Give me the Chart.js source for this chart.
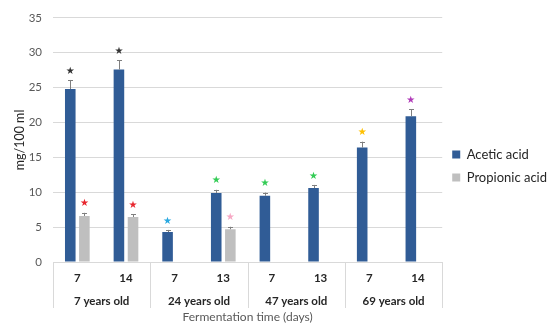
<!DOCTYPE html>
<html>
<head>
<meta charset="utf-8">
<script src="https://cdn.jsdelivr.net/npm/chart.js@4/dist/chart.umd.min.js"></script>
<style>
  html, body { margin: 0; padding: 0; background: #fff; }
  #wrap { width: 550px; height: 332px; }
</style>
</head>
<body>
<div id="wrap"><canvas id="c"></canvas></div>
<script>
const days = ['7', '14', '7', '13', '7', '13', '7', '14'];
const groups = ['7 years old', '24 years old', '47 years old', '69 years old'];
const acetic = [24.8, 27.6, 4.3, 9.9, 9.5, 10.6, 16.4, 20.9];
const aceticErr = [1.3, 1.3, 0.3, 0.45, 0.45, 0.45, 0.85, 1.0];
const propionic = [6.6, 6.45, null, 4.7, null, null, null, null];
const propionicErr = [0.45, 0.4, null, 0.35, null, null, null, null];
const aceticStars = ['#333333', '#333333', '#29a8e0', '#33cc55', '#33cc55', '#33cc55', '#ffc000', '#b03ab8'];
const propionicStars = ['#e8262e', '#e8262e', null, '#f7a8c4', null, null, null, null];

const FONT = 'Lato, "Open Sans", "Liberation Sans", sans-serif';

const overlay = {
  id: 'overlay',
  afterDatasetsDraw(chart) {
    const ctx = chart.ctx;
    const y = chart.scales.y;
    const x = chart.scales.x;
    const area = chart.chartArea;
    const errs = [aceticErr, propionicErr];
    const stars = [aceticStars, propionicStars];
    ctx.save();
    chart.data.datasets.forEach((ds, di) => {
      const meta = chart.getDatasetMeta(di);
      meta.data.forEach((bar, i) => {
        const v = ds.data[i];
        if (v == null) return;
        const e = errs[di][i];
        const top = y.getPixelForValue(v + e);
        const bx = Math.round(bar.x) + 0.5;
        ctx.strokeStyle = '#7f7f7f';
        ctx.lineWidth = 1;
        ctx.beginPath();
        ctx.moveTo(bx, y.getPixelForValue(v));
        ctx.lineTo(bx, top);
        ctx.moveTo(bx - 2.5, Math.round(top) + 0.5);
        ctx.lineTo(bx + 2.5, Math.round(top) + 0.5);
        ctx.stroke();
        const sc = stars[di][i];
        if (sc) {
          ctx.fillStyle = sc;
          ctx.font = '10px "DejaVu Sans"';
          ctx.textAlign = 'center';
          ctx.textBaseline = 'middle';
          ctx.fillText('\u2605', bar.x, top - 9);
        }
      });
    });
    // group separators
    ctx.strokeStyle = '#d9d9d9';
    ctx.lineWidth = 1;
    const n = days.length;
    for (let g = 0; g <= groups.length; g++) {
      const idx = g * 2;
      let px;
      if (idx === 0) px = area.left;
      else if (idx >= n) px = area.right;
      else px = (x.getPixelForValue(idx - 1) + x.getPixelForValue(idx)) / 2;
      px = Math.round(px) + 0.5;
      ctx.beginPath();
      ctx.moveTo(px, area.bottom);
      ctx.lineTo(px, area.bottom + 46);
      ctx.stroke();
    }
    ctx.restore();
  }
};

new Chart(document.getElementById('c'), {
  type: 'bar',
  data: {
    labels: days,
    datasets: [
      { label: 'Acetic acid', data: acetic, backgroundColor: '#305c96', borderWidth: 0 },
      { label: 'Propionic acid', data: propionic, backgroundColor: '#bfbfbf', borderWidth: 0 }
    ]
  },
  options: {
    responsive: true,
    maintainAspectRatio: false,
    animation: false,
    datasets: { bar: { categoryPercentage: 0.58, barPercentage: 0.75 } },
    layout: { padding: { top: 8, right: -7, left: 12, bottom: 8 } },
    plugins: {
      tooltip: { enabled: false },
      legend: {
        position: 'right',
        labels: {
          boxWidth: 8, boxHeight: 8, padding: 10,
          color: '#262626',
          font: { family: FONT, size: 13 }
        }
      }
    },
    scales: {
      x: {
        grid: { display: false, drawTicks: false },
        border: { display: false },
        ticks: { color: '#262626', font: { family: FONT, size: 11.5, weight: 'bold' }, padding: 9 }
      },
      x2: {
        type: 'category',
        labels: groups,
        position: 'bottom',
        grid: { display: false, drawTicks: false },
        border: { display: false },
        ticks: { color: '#262626', font: { family: FONT, size: 11.5, weight: 'bold' }, padding: 1 },
        title: { display: true, text: 'Fermentation time (days)', color: '#595959', font: { family: FONT, size: 12 }, padding: { top: 0, bottom: 0 } }
      },
      y: {
        min: 0, max: 35,
        afterFit(scale) { scale.width = 41; },
        ticks: { stepSize: 5, color: '#595959', font: { family: FONT, size: 11.5 }, padding: 11 },
        grid: { color: '#d9d9d9', drawTicks: false },
        border: { display: false },
        title: { display: true, text: 'mg/100 ml', color: '#262626', font: { family: FONT, size: 12.5 }, padding: 0 }
      }
    }
  },
  plugins: [overlay]
});
</script>
</body>
</html>
